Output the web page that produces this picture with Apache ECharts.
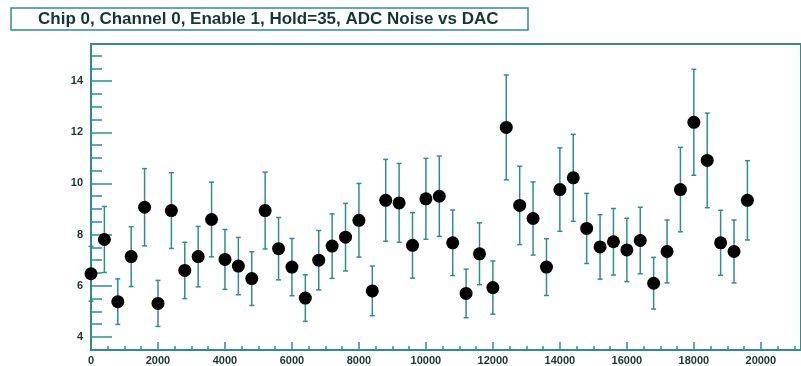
<!DOCTYPE html>
<html>
<head>
<meta charset="utf-8">
<script src="https://cdn.jsdelivr.net/npm/echarts@6/dist/echarts.min.js"></script>
<style>
  html, body { margin: 0; padding: 0; background: #fff; }
  #chart { width: 801px; height: 366px; }
</style>
</head>
<body>
<div id="chart"></div>
<script>
// DAC settings (x)
const dac = [0, 400, 800, 1200, 1600, 2000, 2400, 2800, 3200, 3600,
  4000, 4400, 4800, 5200, 5600, 6000, 6400, 6800, 7200, 7600,
  8000, 8400, 8800, 9200, 9600, 10000, 10400, 10800, 11200, 11600,
  12000, 12400, 12800, 13200, 13600, 14000, 14400, 14800, 15200, 15600,
  16000, 16400, 16800, 17200, 17600, 18000, 18400, 18800, 19200, 19600]

// ADC noise (y) and its error
const noise = [6.47, 7.81, 5.38, 7.14, 9.07, 5.31, 8.94, 6.6, 7.14, 8.59,
  7.03, 6.77, 6.28, 8.94, 7.45, 6.73, 5.52, 7.0, 7.55, 7.9,
  8.56, 5.8, 9.34, 9.24, 7.58, 9.4, 9.5, 7.68, 5.7, 7.25,
  5.93, 12.19, 9.14, 8.63, 6.73, 9.76, 10.22, 8.24, 7.52, 7.72,
  7.4, 7.77, 6.1, 7.34, 9.76, 12.39, 10.9, 7.68, 7.34, 9.34]
const noiseErr = [1.07, 1.29, 0.89, 1.17, 1.51, 0.9, 1.48, 1.1, 1.18, 1.46,
  1.17, 1.12, 1.05, 1.5, 1.22, 1.12, 0.91, 1.16, 1.26, 1.32,
  1.44, 0.97, 1.6, 1.54, 1.28, 1.58, 1.57, 1.28, 0.95, 1.21,
  1.04, 2.05, 1.53, 1.43, 1.11, 1.63, 1.7, 1.37, 1.26, 1.3,
  1.24, 1.3, 1.01, 1.23, 1.65, 2.07, 1.85, 1.27, 1.23, 1.55]

// tick positions
const xMajor = [0, 2000, 4000, 6000, 8000, 10000, 12000, 14000, 16000, 18000, 20000]
const xMinor = [0, 500, 1000, 1500, 2000, 2500, 3000, 3500, 4000, 4500, 5000, 5500,
  6000, 6500, 7000, 7500, 8000, 8500, 9000, 9500, 10000, 10500, 11000, 11500,
  12000, 12500, 13000, 13500, 14000, 14500, 15000, 15500, 16000, 16500, 17000,
  17500, 18000, 18500, 19000, 19500, 20000, 20500, 21000]
const yMajor = [4, 6, 8, 10, 12, 14]
const yMinor = [3.5, 4, 4.5, 5, 5.5, 6, 6.5, 7, 7.5, 8, 8.5, 9, 9.5, 10, 10.5,
  11, 11.5, 12, 12.5, 13, 13.5, 14, 14.5, 15]

const lineColor = '#2e8e8e'
const textColor = '#1d3434'
const fontFamily = '"Liberation Sans", Arial, sans-serif'

const chart = echarts.init(document.getElementById('chart'))

const points = dac.map((x, i) => [x, noise[i]])
const bars = dac.map((x, i) => [x, noise[i] - noiseErr[i], noise[i] + noiseErr[i]])

const xRange = { min: 0, max: 21200 }
const yRange = { min: 3.49, max: 15.45 }

chart.setOption({
  animation: false,
  backgroundColor: '#fff',
  title: {
    text: 'Chip 0, Channel 0, Enable 1, Hold=35, ADC Noise vs DAC',
    left: 11,
    top: 8,
    padding: [3, 30, 2, 27],
    borderColor: lineColor,
    borderWidth: 1.5,
    textStyle: { fontFamily, fontSize: 17, fontWeight: 'bold', color: '#163636' }
  },
  grid: {
    left: 91,
    right: -3,
    top: 44,
    bottom: 15,
    show: true,
    borderColor: lineColor,
    borderWidth: 2,
    backgroundColor: 'transparent'
  },
  xAxis: [
    {
      type: 'value',
      ...xRange,
      splitLine: { show: false },
      axisLine: { show: false },
      axisTick: { inside: true, length: 8, customValues: xMajor, lineStyle: { color: lineColor, width: 1.5 } },
      axisLabel: {
        customValues: xMajor,
        formatter: (v) => String(v),
        margin: 5,
        color: textColor,
        fontFamily,
        fontSize: 11,
        fontWeight: 'bold'
      }
    },
    {
      type: 'value',
      ...xRange,
      position: 'bottom',
      splitLine: { show: false },
      axisLine: { show: false },
      axisTick: { inside: true, length: 4, customValues: xMinor, lineStyle: { color: lineColor, width: 1.5 } },
      axisLabel: { show: false }
    }
  ],
  yAxis: [
    {
      type: 'value',
      ...yRange,
      splitLine: { show: false },
      axisLine: { show: false },
      axisTick: { inside: true, length: 21, customValues: yMajor, lineStyle: { color: lineColor, width: 1.5 } },
      axisLabel: {
        customValues: yMajor,
        formatter: (v) => String(v),
        margin: 8,
        color: textColor,
        fontFamily,
        fontSize: 11,
        fontWeight: 'bold'
      }
    },
    {
      type: 'value',
      ...yRange,
      position: 'left',
      splitLine: { show: false },
      axisLine: { show: false },
      axisTick: { inside: true, length: 11, customValues: yMinor, lineStyle: { color: lineColor, width: 1.5 } },
      axisLabel: { show: false }
    }
  ],
  series: [
    {
      type: 'custom',
      xAxisIndex: 0,
      yAxisIndex: 0,
      data: bars,
      z: 2,
      renderItem: function (params, api) {
        const x = api.value(0)
        const lo = api.coord([x, api.value(1)])
        const hi = api.coord([x, api.value(2)])
        const cap = 2.5
        const style = { stroke: lineColor, lineWidth: 1.5 }
        return {
          type: 'group',
          children: [
            { type: 'line', shape: { x1: hi[0], y1: hi[1], x2: lo[0], y2: lo[1] }, style },
            { type: 'line', shape: { x1: hi[0] - cap, y1: hi[1], x2: hi[0] + cap, y2: hi[1] }, style },
            { type: 'line', shape: { x1: lo[0] - cap, y1: lo[1], x2: lo[0] + cap, y2: lo[1] }, style }
          ]
        }
      }
    },
    {
      type: 'scatter',
      xAxisIndex: 0,
      yAxisIndex: 0,
      data: points,
      symbol: 'circle',
      symbolSize: 13,
      z: 3,
      itemStyle: { color: '#000', opacity: 1 }
    }
  ]
})
</script>
</body>
</html>
